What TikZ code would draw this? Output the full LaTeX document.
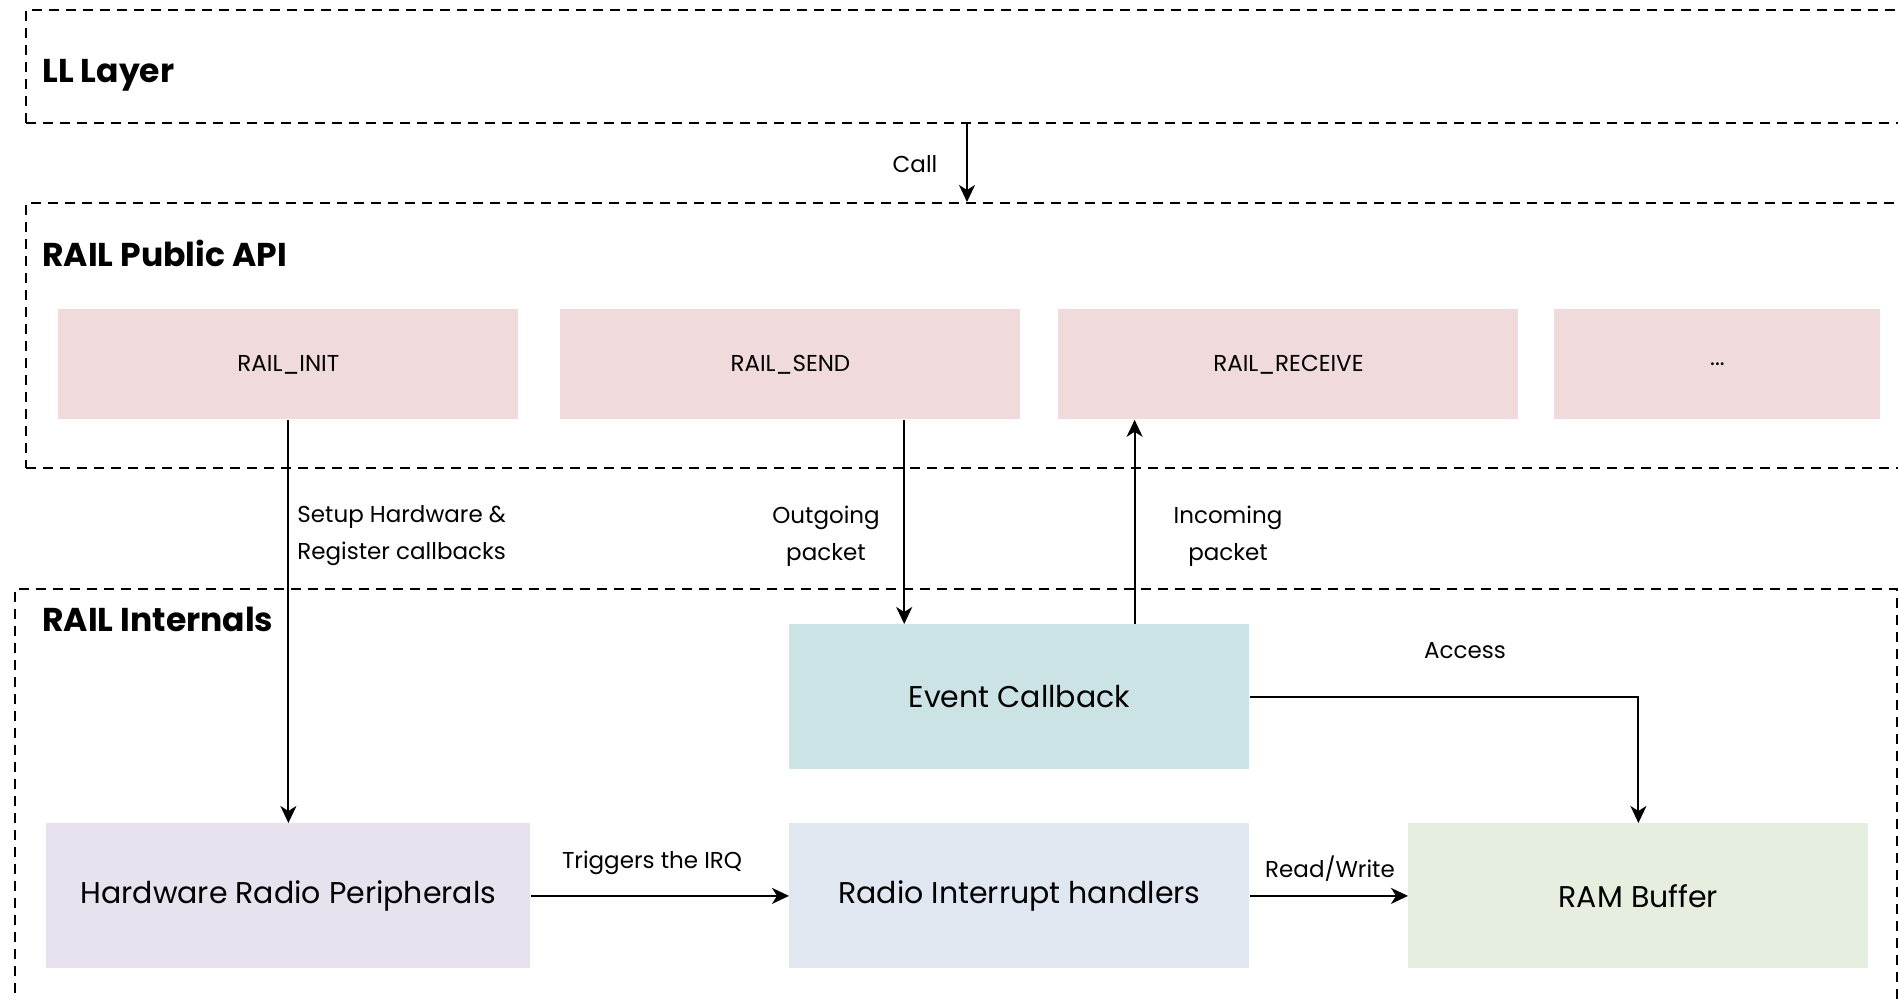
\documentclass[tikz,border=0pt]{standalone}
\usepackage{fontspec}
\setmainfont{Poppins}
\usetikzlibrary{arrows.meta,calc}

\definecolor{apifill}{HTML}{F0DADC}
\definecolor{evfill}{HTML}{CCE3E6}
\definecolor{hwfill}{HTML}{E8E1EE}
\definecolor{irqfill}{HTML}{E0E7F1}
\definecolor{ramfill}{HTML}{E5EEDF}

\begin{document}
\begin{tikzpicture}[x=0.5pt,y=-0.5pt,
  layer/.style={draw=black, line width=1pt, dash pattern=on 5pt off 3.5pt,
    rectangle, inner sep=0pt, anchor=north west},
  title/.style={anchor=base west, inner sep=0pt, font=\fontsize{16.5}{20}\selectfont\bfseries},
  apibox/.style={rectangle, fill=apifill, inner sep=0pt, anchor=north west,
    minimum width=230pt, minimum height=55pt, font=\fontsize{11.5}{14}\selectfont},
  intbox/.style={rectangle, inner sep=0pt, anchor=north west,
    minimum width=230pt, minimum height=72.5pt, font=\fontsize{15}{18}\selectfont},
  lbl/.style={inner sep=0pt, align=center, font=\fontsize{11.5}{18.5}\selectfont},
  flow/.style={draw=black, line width=1pt, -{Stealth[length=8.5pt,width=8pt,inset=2.5pt]}}
]
\useasboundingbox (0,0) rectangle (1898,999);
\clip (0,0) rectangle (1898,999);

% layer frames (open to the right / bottom edge)
\node[layer, minimum width=1000pt, minimum height=56.5pt] (ll) at (25,9) {};
\node[title] (lltitle) at (42,83) {LL Layer};

\node[layer, minimum width=1000pt, minimum height=132.5pt] (api) at (25,202) {};
\node[title] (apititle) at (42,267) {RAIL Public API};

\node[layer, minimum width=941pt, minimum height=250pt] (int) at (14,588) {};
\node[title] (inttitle) at (42,631) {RAIL Internals};

% public API functions
\node[apibox] (init) at (58,309) {RAIL\_INIT};
\node[apibox] (send) at (560,309) {RAIL\_SEND};
\node[apibox] (recv) at (1058,309) {RAIL\_RECEIVE};
\node[apibox, minimum width=163pt] (more) at (1554,309) {...};

% internal blocks
\node[intbox, fill=evfill] (ev) at (789,624) {Event Callback};
\node[intbox, fill=hwfill, minimum width=242pt] (hw) at (46,823) {Hardware Radio Peripherals};
\node[intbox, fill=irqfill] (irq) at (789,823) {Radio Interrupt handlers};
\node[intbox, fill=ramfill] (ram) at (1408,823) {RAM Buffer};

% connectors
\coordinate (callx) at (967,0);
\draw[flow] (ll.south -| callx) -- (api.north -| callx);
\node[lbl] (calllbl) at (915,164) {Call};

\draw[flow] (init.south) -- (hw.north);
\node[lbl, align=left, anchor=west] (setuplbl) at (297,536) {Setup Hardware \&\\Register callbacks};

\coordinate (outx) at ($(ev.north west)!0.25!(ev.north east)$);
\coordinate (inx) at ($(ev.north west)!0.75!(ev.north east)$);
\draw[flow] (send.south -| outx) -- (outx);
\node[lbl] (outlbl) at (826,536) {Outgoing\\packet};
\draw[flow] (inx) -- (recv.south -| inx);
\node[lbl] (inlbl) at (1228,536) {Incoming\\packet};

\draw[flow] (ev.east) -| (ram.north);
\node[lbl] (acclbl) at (1465,651) {Access};

\draw[flow] (hw.east) -- (irq.west);
\node[lbl] (irqlbl) at (652,863) {Triggers the IRQ};

\draw[flow] (irq.east) -- (ram.west);
\node[lbl] (rwlbl) at (1330,869) {Read/Write};
\end{tikzpicture}
\end{document}
